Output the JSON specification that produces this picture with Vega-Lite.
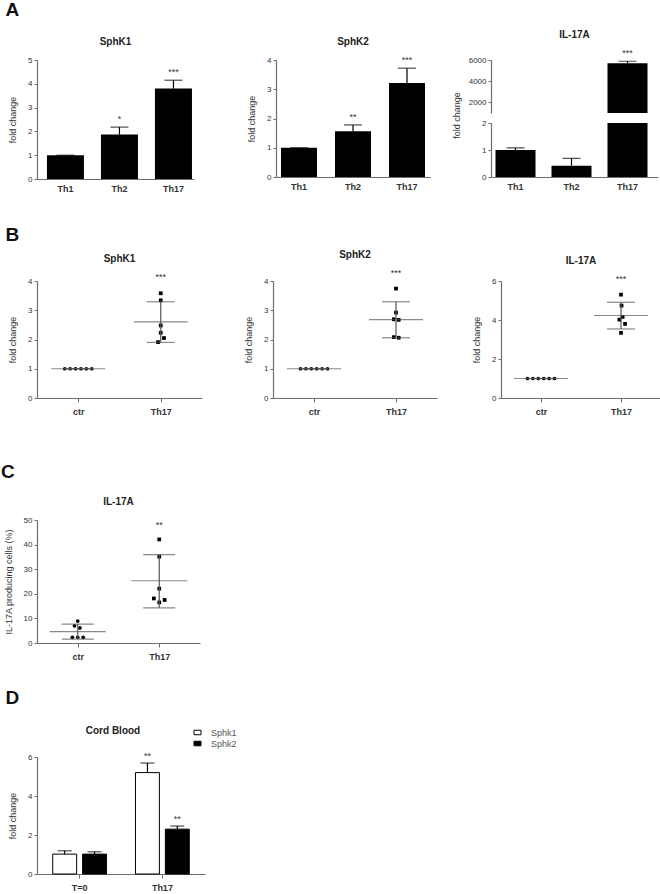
{
"$schema": "https://vega.github.io/schema/vega-lite/v6.json",
"padding": {"left": 1, "top": 1, "right": 0, "bottom": 2},
"background": "white",
"config": {
  "font": "Liberation Sans",
  "view": {"stroke": null},
  "axis": {"domainColor": "#6e6e6e", "tickColor": "#6e6e6e", "labelColor": "#333", "titleColor": "#333", "labelFontSize": 8, "titleFontSize": 9, "titleFontWeight": "normal", "grid": false, "tickSize": 3, "labelPadding": 2, "titlePadding": 10, "domainWidth": 1.2},
  "axisX": {"labelFontWeight": "bold", "labelFontSize": 9, "labelAngle": 0, "tickSize": 4, "labelPadding": 5},
  "title": {"fontSize": 10, "fontWeight": "bold", "color": "#222", "offset": 9, "frame": "group", "anchor": "middle"},
  "text": {"fontSize": 9, "color": "#333"}
},
"datasets": {
  "a1": [{"cell": "Th1", "v": 1.0, "hi": 1.0, "sig": ""}, {"cell": "Th2", "v": 1.87, "hi": 2.18, "sig": "*"}, {"cell": "Th17", "v": 3.8, "hi": 4.15, "sig": "***"}],
  "a2": [{"cell": "Th1", "v": 1.0, "hi": 1.0, "sig": ""}, {"cell": "Th2", "v": 1.56, "hi": 1.78, "sig": "**"}, {"cell": "Th17", "v": 3.21, "hi": 3.72, "sig": "***"}],
  "a3": [{"cell": "Th1", "v": 1.0, "hi": 1.08, "sig": ""}, {"cell": "Th2", "v": 0.42, "hi": 0.69, "sig": ""}, {"cell": "Th17", "v": 5700, "hi": 5880, "sig": "***"}],
  "b1": [{"g": "ctr", "v": 1, "slot": -2.5}, {"g": "ctr", "v": 1, "slot": -1.5}, {"g": "ctr", "v": 1, "slot": -0.5}, {"g": "ctr", "v": 1, "slot": 0.5}, {"g": "ctr", "v": 1, "slot": 1.5}, {"g": "ctr", "v": 1, "slot": 2.5},
         {"g": "Th17", "v": 3.58, "slot": 0}, {"g": "Th17", "v": 3.34, "slot": 0}, {"g": "Th17", "v": 2.48, "slot": 0}, {"g": "Th17", "v": 2.23, "slot": 0}, {"g": "Th17", "v": 2.05, "slot": 0.6}, {"g": "Th17", "v": 1.91, "slot": -0.5}],
  "b1s": [{"g": "ctr", "mean": 1, "lo": 1, "hi": 1, "top": 1, "sig": ""}, {"g": "Th17", "mean": 2.6, "lo": 1.9, "hi": 3.29, "top": 3.58, "sig": "***"}],
  "b2": [{"g": "ctr", "v": 1, "slot": -2.5}, {"g": "ctr", "v": 1, "slot": -1.5}, {"g": "ctr", "v": 1, "slot": -0.5}, {"g": "ctr", "v": 1, "slot": 0.5}, {"g": "ctr", "v": 1, "slot": 1.5}, {"g": "ctr", "v": 1, "slot": 2.5},
         {"g": "Th17", "v": 3.74, "slot": 0}, {"g": "Th17", "v": 2.92, "slot": 0}, {"g": "Th17", "v": 2.69, "slot": -0.4}, {"g": "Th17", "v": 2.67, "slot": 0.5}, {"g": "Th17", "v": 2.08, "slot": -0.4}, {"g": "Th17", "v": 2.06, "slot": 0.5}],
  "b2s": [{"g": "ctr", "mean": 1, "lo": 1, "hi": 1, "top": 1, "sig": ""}, {"g": "Th17", "mean": 2.68, "lo": 2.06, "hi": 3.29, "top": 3.74, "sig": "***"}],
  "b3": [{"g": "ctr", "v": 1, "slot": -2.5}, {"g": "ctr", "v": 1, "slot": -1.5}, {"g": "ctr", "v": 1, "slot": -0.5}, {"g": "ctr", "v": 1, "slot": 0.5}, {"g": "ctr", "v": 1, "slot": 1.5}, {"g": "ctr", "v": 1, "slot": 2.5},
         {"g": "Th17", "v": 5.3, "slot": 0}, {"g": "Th17", "v": 4.74, "slot": 0.1}, {"g": "Th17", "v": 4.16, "slot": 0.3}, {"g": "Th17", "v": 4.02, "slot": -0.3}, {"g": "Th17", "v": 3.8, "slot": 0.75}, {"g": "Th17", "v": 3.34, "slot": 0}],
  "b3s": [{"g": "ctr", "mean": 1, "lo": 1, "hi": 1, "top": 1, "sig": ""}, {"g": "Th17", "mean": 4.23, "lo": 3.54, "hi": 4.91, "top": 5.3, "sig": "***"}],
  "c": [{"g": "ctr", "v": 8.9, "slot": 0}, {"g": "ctr", "v": 7.0, "slot": -0.6}, {"g": "ctr", "v": 6.1, "slot": 0.4}, {"g": "ctr", "v": 2.3, "slot": -1}, {"g": "ctr", "v": 2.3, "slot": 0}, {"g": "ctr", "v": 2.3, "slot": 1},
        {"g": "Th17", "v": 42.1, "slot": 0}, {"g": "Th17", "v": 35.1, "slot": 0}, {"g": "Th17", "v": 22.1, "slot": 0}, {"g": "Th17", "v": 18.1, "slot": -1}, {"g": "Th17", "v": 17.5, "slot": 1}, {"g": "Th17", "v": 16.5, "slot": 0}],
  "cs": [{"g": "ctr", "mean": 4.6, "lo": 1.6, "hi": 7.7, "top": 8.9, "sig": ""}, {"g": "Th17", "mean": 25.3, "lo": 14.3, "hi": 35.9, "top": 42.1, "sig": "**"}],
  "d": [{"t": "T=0", "gene": "Sphk1", "v": 1.02, "hi": 1.19, "sig": ""}, {"t": "T=0", "gene": "Sphk2", "v": 1.02, "hi": 1.14, "sig": ""}, {"t": "Th17", "gene": "Sphk1", "v": 5.2, "hi": 5.69, "sig": "**"}, {"t": "Th17", "gene": "Sphk2", "v": 2.3, "hi": 2.46, "sig": "**"}]
},
"resolve": {"legend": {"fill": "independent", "shape": "independent"}},
"vconcat": [
  {
    "resolve": {"legend": {"fill": "independent", "shape": "independent"}},
    "vconcat": [
      {
        "title": {"text": "A", "anchor": "start", "frame": "bounds", "fontSize": 19, "fontWeight": "bold", "color": "#111", "offset": 10, "dx": -3},
        "hconcat": [
          {
            "hconcat": [
              {
                "width": 157, "height": 119,
                "title": {"text": "SphK1"},
                "data": {"name": "a1"},
                "encoding": {"x": {"field": "cell", "type": "nominal", "sort": ["Th1", "Th2", "Th17"], "scale": {"type": "band", "paddingInner": 0.315, "paddingOuter": 0.111, "align": 0.83}, "axis": {"title": null, "ticks": false}}},
                "layer": [
                  {"mark": {"type": "bar", "color": "black", "width": 37}, "encoding": {"y": {"field": "v", "type": "quantitative", "scale": {"domain": [0, 5]}, "axis": {"title": "fold change", "values": [0, 1, 2, 3, 4, 5]}}}},
                  {"mark": {"type": "rule", "color": "black", "strokeWidth": 1.2}, "encoding": {"y": {"field": "v", "type": "quantitative", "axis": {"title": "fold change", "values": [0, 1, 2, 3, 4, 5]}}, "y2": {"field": "hi"}}},
                  {"mark": {"type": "tick", "color": "black", "thickness": 1.2, "size": 18}, "encoding": {"y": {"field": "hi", "type": "quantitative", "axis": {"title": "fold change", "values": [0, 1, 2, 3, 4, 5]}}}},
                  {"mark": {"type": "text", "dy": -8, "baseline": "middle"}, "encoding": {"y": {"field": "hi", "type": "quantitative", "axis": {"title": "fold change", "values": [0, 1, 2, 3, 4, 5]}}, "text": {"field": "sig"}}}
                ]
              },
              {
                "width": 154, "height": 117,
                "title": {"text": "SphK2"},
                "data": {"name": "a2"},
                "encoding": {"x": {"field": "cell", "type": "nominal", "sort": ["Th1", "Th2", "Th17"], "scale": {"type": "band", "paddingInner": 0.315, "paddingOuter": 0.083, "align": 0.5}, "axis": {"title": null, "ticks": false}}},
                "layer": [
                  {"mark": {"type": "bar", "color": "black", "width": 36}, "encoding": {"y": {"field": "v", "type": "quantitative", "scale": {"domain": [0, 4]}, "axis": {"title": "fold change", "values": [0, 1, 2, 3, 4]}}}},
                  {"mark": {"type": "rule", "color": "black", "strokeWidth": 1.2}, "encoding": {"y": {"field": "v", "type": "quantitative", "axis": {"title": "fold change", "values": [0, 1, 2, 3, 4]}}, "y2": {"field": "hi"}}},
                  {"mark": {"type": "tick", "color": "black", "thickness": 1.2, "size": 18}, "encoding": {"y": {"field": "hi", "type": "quantitative", "axis": {"title": "fold change", "values": [0, 1, 2, 3, 4]}}}},
                  {"mark": {"type": "text", "dy": -8, "baseline": "middle"}, "encoding": {"y": {"field": "hi", "type": "quantitative", "axis": {"title": "fold change", "values": [0, 1, 2, 3, 4]}}, "text": {"field": "sig"}}}
                ]
              }
            ],
            "spacing": 53
          },
          {
            "bounds": "flush",
            "vconcat": [
              {
                "width": 167, "height": 53,
                "title": {"text": "IL-17A"},
                "data": {"name": "a3"},
                "encoding": {"x": {"field": "cell", "type": "nominal", "sort": ["Th1", "Th2", "Th17"], "scale": {"type": "band", "paddingInner": 0.286, "paddingOuter": 0.134, "align": 0.3}, "axis": null}},
                "layer": [
                  {"mark": {"type": "bar", "color": "black", "clip": true, "width": 40}, "encoding": {"y": {"field": "v", "type": "quantitative", "scale": {"domain": [1000, 6000]}, "axis": {"title": null, "values": [2000, 4000, 6000], "format": "d"}}}},
                  {"mark": {"type": "rule", "color": "black", "strokeWidth": 1.2, "clip": true}, "encoding": {"y": {"field": "v", "type": "quantitative", "axis": {"title": null, "values": [2000, 4000, 6000], "format": "d"}}, "y2": {"field": "hi"}}},
                  {"mark": {"type": "tick", "color": "black", "thickness": 1.2, "size": 18, "clip": true}, "encoding": {"y": {"field": "hi", "type": "quantitative", "axis": {"title": null, "values": [2000, 4000, 6000], "format": "d"}}}},
                  {"mark": {"type": "text", "dy": -8, "baseline": "middle"}, "encoding": {"y": {"field": "hi", "type": "quantitative", "axis": {"title": null, "values": [2000, 4000, 6000], "format": "d"}}, "text": {"field": "sig"}}}
                ]
              },
              {
                "width": 167, "height": 54,
                "data": {"name": "a3"},
                "encoding": {"x": {"field": "cell", "type": "nominal", "sort": ["Th1", "Th2", "Th17"], "scale": {"type": "band", "paddingInner": 0.286, "paddingOuter": 0.134, "align": 0.3}, "axis": {"title": null, "ticks": false}}},
                "layer": [
                  {"mark": {"type": "bar", "color": "black", "clip": true, "width": 40}, "encoding": {"y": {"field": "v", "type": "quantitative", "scale": {"domain": [0, 2]}, "axis": {"title": "fold change", "values": [0, 1, 2], "format": ".0f", "labelOverlap": false, "labelBound": false, "titleY": -8, "titlePadding": 20}}}},
                  {"mark": {"type": "rule", "color": "black", "strokeWidth": 1.2, "clip": true}, "encoding": {"y": {"field": "v", "type": "quantitative", "axis": {"title": "fold change", "values": [0, 1, 2], "format": ".0f", "labelOverlap": false, "labelBound": false, "titleY": -8, "titlePadding": 20}}, "y2": {"field": "hi"}}},
                  {"mark": {"type": "tick", "color": "black", "thickness": 1.2, "size": 18, "clip": true}, "encoding": {"y": {"field": "hi", "type": "quantitative", "axis": {"title": "fold change", "values": [0, 1, 2], "format": ".0f", "labelOverlap": false, "labelBound": false, "titleY": -8, "titlePadding": 20}}}}
                ]
              }
            ],
            "spacing": 10
          }
        ],
        "spacing": 22
      },
      {
        "title": {"text": "B", "anchor": "start", "frame": "bounds", "fontSize": 19, "fontWeight": "bold", "color": "#111", "offset": 5, "dx": -3},
        "hconcat": [
          {
            "hconcat": [
              {
                "width": 165, "height": 117,
                "title": {"text": "SphK1"},
                "encoding": {"x": {"field": "g", "type": "nominal", "sort": ["ctr", "Th17"], "scale": {"type": "point", "padding": 0.5}, "axis": {"title": null}}},
                "layer": [
                  {"data": {"name": "b1"}, "mark": {"type": "point", "filled": true, "color": "black", "size": 14, "opacity": 1}, "encoding": {"y": {"field": "v", "type": "quantitative", "scale": {"domain": [0, 4]}, "axis": {"title": "fold change", "values": [0, 1, 2, 3, 4]}}, "xOffset": {"field": "slot", "type": "quantitative", "scale": {"domain": [-1, 1], "range": [-5.4, 5.4]}}, "shape": {"field": "g", "type": "nominal", "scale": {"domain": ["ctr", "Th17"], "range": ["circle", "square"]}, "legend": null}}},
                  {"data": {"name": "b1s"}, "mark": {"type": "tick", "color": "#555", "thickness": 1.2, "size": 54}, "encoding": {"y": {"field": "mean", "type": "quantitative", "axis": {"title": "fold change", "values": [0, 1, 2, 3, 4]}}}},
                  {"data": {"name": "b1s"}, "mark": {"type": "tick", "color": "#555", "thickness": 1.2, "size": 28}, "encoding": {"y": {"field": "lo", "type": "quantitative", "axis": {"title": "fold change", "values": [0, 1, 2, 3, 4]}}}},
                  {"data": {"name": "b1s"}, "mark": {"type": "tick", "color": "#555", "thickness": 1.2, "size": 28}, "encoding": {"y": {"field": "hi", "type": "quantitative", "axis": {"title": "fold change", "values": [0, 1, 2, 3, 4]}}}},
                  {"data": {"name": "b1s"}, "mark": {"type": "rule", "color": "#555", "strokeWidth": 1.2}, "encoding": {"y": {"field": "lo", "type": "quantitative", "axis": {"title": "fold change", "values": [0, 1, 2, 3, 4]}}, "y2": {"field": "hi"}}},
                  {"data": {"name": "b1s"}, "mark": {"type": "text", "dy": -16, "baseline": "middle"}, "encoding": {"y": {"field": "top", "type": "quantitative", "axis": {"title": "fold change", "values": [0, 1, 2, 3, 4]}}, "text": {"field": "sig"}}}
                ]
              },
              {
                "width": 164, "height": 117,
                "title": {"text": "SphK2"},
                "encoding": {"x": {"field": "g", "type": "nominal", "sort": ["ctr", "Th17"], "scale": {"type": "point", "padding": 0.5}, "axis": {"title": null}}},
                "layer": [
                  {"data": {"name": "b2"}, "mark": {"type": "point", "filled": true, "color": "black", "size": 14, "opacity": 1}, "encoding": {"y": {"field": "v", "type": "quantitative", "scale": {"domain": [0, 4]}, "axis": {"title": "fold change", "values": [0, 1, 2, 3, 4]}}, "xOffset": {"field": "slot", "type": "quantitative", "scale": {"domain": [-1, 1], "range": [-5.4, 5.4]}}, "shape": {"field": "g", "type": "nominal", "scale": {"domain": ["ctr", "Th17"], "range": ["circle", "square"]}, "legend": null}}},
                  {"data": {"name": "b2s"}, "mark": {"type": "tick", "color": "#555", "thickness": 1.2, "size": 54}, "encoding": {"y": {"field": "mean", "type": "quantitative", "axis": {"title": "fold change", "values": [0, 1, 2, 3, 4]}}}},
                  {"data": {"name": "b2s"}, "mark": {"type": "tick", "color": "#555", "thickness": 1.2, "size": 28}, "encoding": {"y": {"field": "lo", "type": "quantitative", "axis": {"title": "fold change", "values": [0, 1, 2, 3, 4]}}}},
                  {"data": {"name": "b2s"}, "mark": {"type": "tick", "color": "#555", "thickness": 1.2, "size": 28}, "encoding": {"y": {"field": "hi", "type": "quantitative", "axis": {"title": "fold change", "values": [0, 1, 2, 3, 4]}}}},
                  {"data": {"name": "b2s"}, "mark": {"type": "rule", "color": "#555", "strokeWidth": 1.2}, "encoding": {"y": {"field": "lo", "type": "quantitative", "axis": {"title": "fold change", "values": [0, 1, 2, 3, 4]}}, "y2": {"field": "hi"}}},
                  {"data": {"name": "b2s"}, "mark": {"type": "text", "dy": -16, "baseline": "middle"}, "encoding": {"y": {"field": "top", "type": "quantitative", "axis": {"title": "fold change", "values": [0, 1, 2, 3, 4]}}, "text": {"field": "sig"}}}
                ]
              }
            ],
            "spacing": 42
          },
          {
            "width": 160, "height": 117,
            "title": {"text": "IL-17A"},
            "encoding": {"x": {"field": "g", "type": "nominal", "sort": ["ctr", "Th17"], "scale": {"type": "point", "padding": 0.5}, "axis": {"title": null}}},
            "layer": [
              {"data": {"name": "b3"}, "mark": {"type": "point", "filled": true, "color": "black", "size": 14, "opacity": 1}, "encoding": {"y": {"field": "v", "type": "quantitative", "scale": {"domain": [0, 6]}, "axis": {"title": "fold change", "values": [0, 2, 4, 6]}}, "xOffset": {"field": "slot", "type": "quantitative", "scale": {"domain": [-1, 1], "range": [-5.4, 5.4]}}, "shape": {"field": "g", "type": "nominal", "scale": {"domain": ["ctr", "Th17"], "range": ["circle", "square"]}, "legend": null}}},
              {"data": {"name": "b3s"}, "mark": {"type": "tick", "color": "#555", "thickness": 1.2, "size": 54}, "encoding": {"y": {"field": "mean", "type": "quantitative", "axis": {"title": "fold change", "values": [0, 2, 4, 6]}}}},
              {"data": {"name": "b3s"}, "mark": {"type": "tick", "color": "#555", "thickness": 1.2, "size": 28}, "encoding": {"y": {"field": "lo", "type": "quantitative", "axis": {"title": "fold change", "values": [0, 2, 4, 6]}}}},
              {"data": {"name": "b3s"}, "mark": {"type": "tick", "color": "#555", "thickness": 1.2, "size": 28}, "encoding": {"y": {"field": "hi", "type": "quantitative", "axis": {"title": "fold change", "values": [0, 2, 4, 6]}}}},
              {"data": {"name": "b3s"}, "mark": {"type": "rule", "color": "#555", "strokeWidth": 1.2}, "encoding": {"y": {"field": "lo", "type": "quantitative", "axis": {"title": "fold change", "values": [0, 2, 4, 6]}}, "y2": {"field": "hi"}}},
              {"data": {"name": "b3s"}, "mark": {"type": "text", "dy": -16, "baseline": "middle"}, "encoding": {"y": {"field": "top", "type": "quantitative", "axis": {"title": "fold change", "values": [0, 2, 4, 6]}}, "text": {"field": "sig"}}}
            ]
          }
        ],
        "spacing": 35
      }
    ],
    "spacing": 32
  },
  {
    "resolve": {"legend": {"fill": "independent", "shape": "independent"}},
    "vconcat": [
      {
        "title": {"text": "C", "anchor": "start", "frame": "bounds", "fontSize": 19, "fontWeight": "bold", "color": "#111", "offset": 15, "dx": -3},
        "vconcat": [
          {
            "width": 163, "height": 123,
            "title": {"text": "IL-17A"},
            "encoding": {"x": {"field": "g", "type": "nominal", "sort": ["ctr", "Th17"], "scale": {"type": "point", "padding": 0.5}, "axis": {"title": null}}},
            "layer": [
              {"data": {"name": "c"}, "mark": {"type": "point", "filled": true, "color": "black", "size": 14, "opacity": 1}, "encoding": {"y": {"field": "v", "type": "quantitative", "scale": {"domain": [0, 50]}, "axis": {"title": "IL-17A producing cells (%)", "values": [0, 10, 20, 30, 40, 50]}}, "xOffset": {"field": "slot", "type": "quantitative", "scale": {"domain": [-1, 1], "range": [-5.4, 5.4]}}, "shape": {"field": "g", "type": "nominal", "scale": {"domain": ["ctr", "Th17"], "range": ["circle", "square"]}, "legend": null}}},
              {"data": {"name": "cs"}, "mark": {"type": "tick", "color": "#555", "thickness": 1.2, "size": 56}, "encoding": {"y": {"field": "mean", "type": "quantitative", "axis": {"title": "IL-17A producing cells (%)", "values": [0, 10, 20, 30, 40, 50]}}}},
              {"data": {"name": "cs"}, "mark": {"type": "tick", "color": "#555", "thickness": 1.2, "size": 32}, "encoding": {"y": {"field": "lo", "type": "quantitative", "axis": {"title": "IL-17A producing cells (%)", "values": [0, 10, 20, 30, 40, 50]}}}},
              {"data": {"name": "cs"}, "mark": {"type": "tick", "color": "#555", "thickness": 1.2, "size": 32}, "encoding": {"y": {"field": "hi", "type": "quantitative", "axis": {"title": "IL-17A producing cells (%)", "values": [0, 10, 20, 30, 40, 50]}}}},
              {"data": {"name": "cs"}, "mark": {"type": "rule", "color": "#555", "strokeWidth": 1.2}, "encoding": {"y": {"field": "lo", "type": "quantitative", "axis": {"title": "IL-17A producing cells (%)", "values": [0, 10, 20, 30, 40, 50]}}, "y2": {"field": "hi"}}},
              {"data": {"name": "cs"}, "mark": {"type": "text", "dy": -14, "baseline": "middle"}, "encoding": {"y": {"field": "top", "type": "quantitative", "axis": {"title": "IL-17A producing cells (%)", "values": [0, 10, 20, 30, 40, 50]}}, "text": {"field": "sig"}}}
            ]
          }
        ]
      },
      {
        "title": {"text": "D", "anchor": "start", "frame": "bounds", "fontSize": 19, "fontWeight": "bold", "color": "#111", "offset": 18, "dx": -3},
        "resolve": {"legend": {"fill": "independent"}},
        "vconcat": [
          {
            "width": 168, "height": 117,
            "title": {"text": "Cord Blood", "dx": -8, "dy": 18},
            "data": {"name": "d"},
            "encoding": {
              "x": {"field": "t", "type": "nominal", "sort": ["T=0", "Th17"], "scale": {"paddingInner": 0.35, "paddingOuter": 0.19}, "axis": {"title": null}},
              "xOffset": {"field": "gene", "type": "nominal", "sort": ["Sphk1", "Sphk2"], "scale": {"paddingInner": 0.2, "paddingOuter": 0}}
            },
            "layer": [
              {"mark": {"type": "bar", "stroke": "black", "strokeWidth": 1}, "encoding": {"y": {"field": "v", "type": "quantitative", "scale": {"domain": [0, 6]}, "axis": {"title": "fold change", "values": [0, 2, 4, 6]}}, "fill": {"field": "gene", "type": "nominal", "scale": {"domain": ["Sphk1", "Sphk2"], "range": ["white", "black"]}, "legend": {"title": null, "orient": "none", "legendX": 155, "legendY": -30, "symbolType": "M-0.7,-0.45H0.7V0.45H-0.7Z", "symbolSize": 100, "symbolStrokeColor": "black", "symbolStrokeWidth": 1, "labelFontSize": 9, "labelColor": "#555", "rowPadding": 0, "labelOffset": 8}}}},
              {"mark": {"type": "rule", "color": "black", "strokeWidth": 1.2}, "encoding": {"y": {"field": "v", "type": "quantitative", "axis": {"title": "fold change", "values": [0, 2, 4, 6]}}, "y2": {"field": "hi"}}},
              {"mark": {"type": "tick", "color": "black", "thickness": 1.2, "size": 14}, "encoding": {"y": {"field": "hi", "type": "quantitative", "axis": {"title": "fold change", "values": [0, 2, 4, 6]}}}},
              {"mark": {"type": "text", "dy": -7, "baseline": "middle"}, "encoding": {"y": {"field": "hi", "type": "quantitative", "axis": {"title": "fold change", "values": [0, 2, 4, 6]}}, "text": {"field": "sig"}}}
            ]
          }
        ]
      }
    ],
    "spacing": 28
  }
],
"spacing": 47
}
